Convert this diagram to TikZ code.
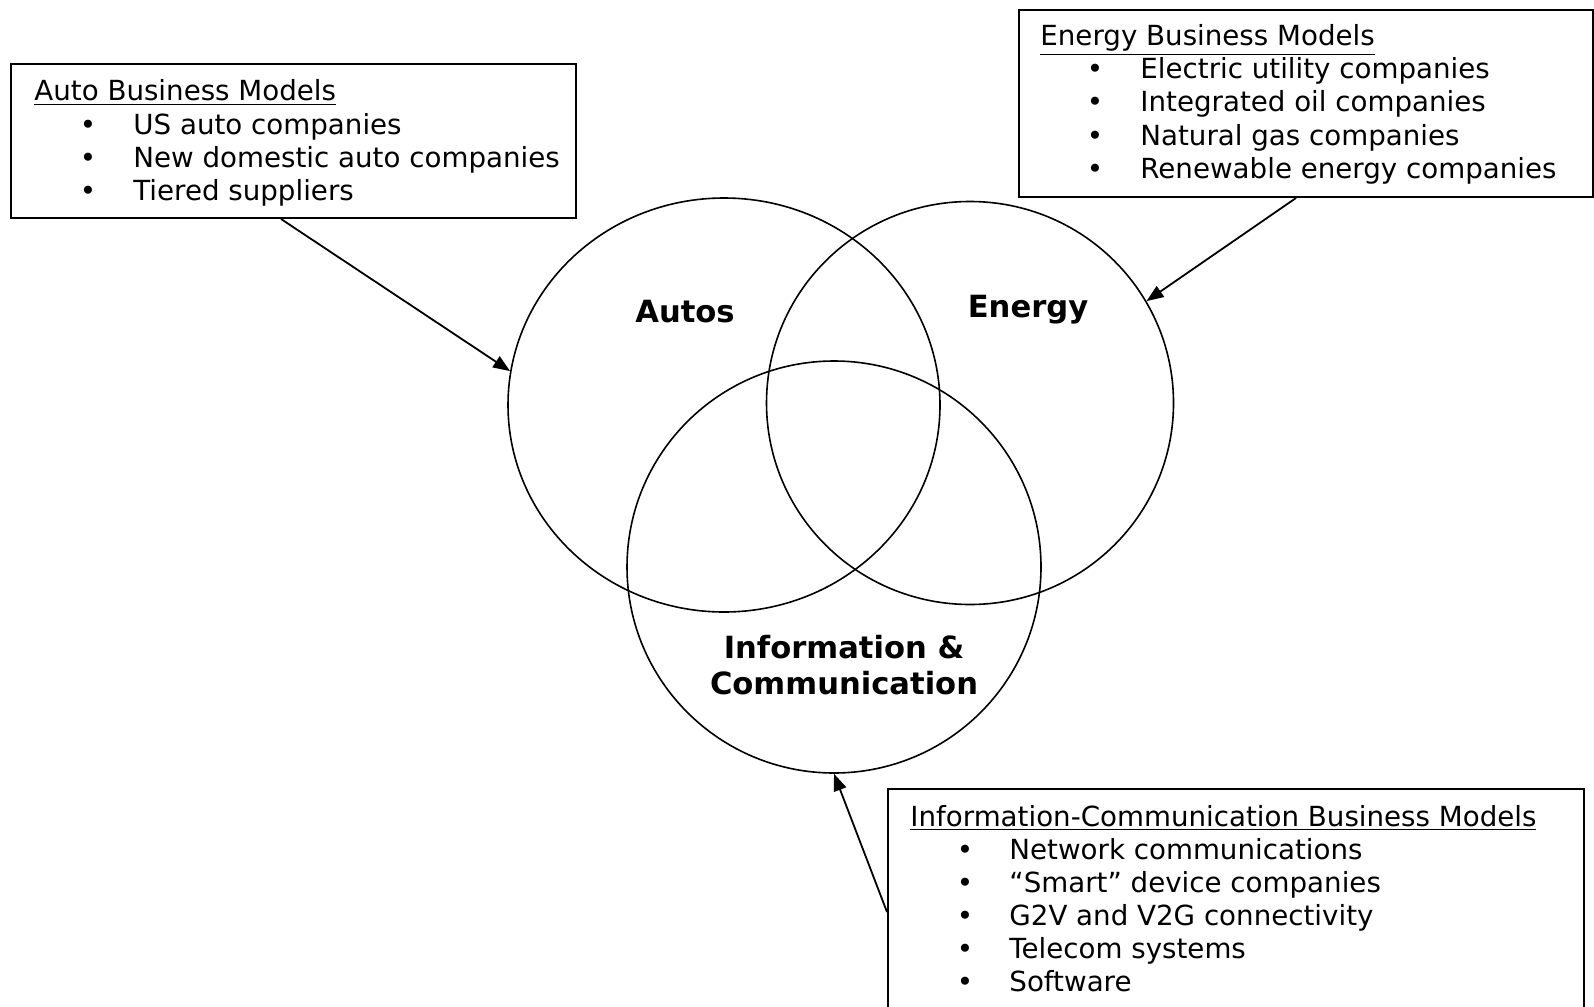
\documentclass[tikz,border=0pt]{standalone}
\usepackage{fontspec}
\setmainfont{DejaVu Sans}
\usetikzlibrary{shapes.geometric,arrows.meta}

\tikzset{
  modelbox/.style={draw,line width=1pt,anchor=north west,inner sep=0pt},
  ring/.style={draw,ellipse,line width=0.8pt,inner sep=0pt},
  item/.style={anchor=base west,inner sep=0pt},
  dot/.style={anchor=base,inner sep=0pt},
  sector/.style={font=\fontsize{15.3}{18}\selectfont\bfseries,align=center},
  conn/.style={-{Triangle[length=8.5pt,width=6.5pt]},line width=0.9pt}
}

\begin{document}
\begin{tikzpicture}[x=0.5pt,y=-0.5pt,
  every node/.append style={font=\fontsize{13.85}{16.5}\selectfont}]
\useasboundingbox (0,0) rectangle (1594,1006);

% the three sectors
\node [ring,minimum width=216pt,minimum height=207pt] (autos) at (724,405) {};
\node [ring,minimum width=203.5pt,minimum height=201.5pt] (energy) at (970,403) {};
\node [ring,minimum width=207pt,minimum height=206pt] (infocom) at (834,567) {};
\node [sector] (autoslbl) at (685,312) {Autos};
\node [sector] (energylbl) at (1028,310) {Energy};
\node [sector] (infocomlbl) at (844,665) {Information \&\\Communication};

% auto box
\node [modelbox,minimum width=282.5pt,minimum height=77pt] (autobox) at (10,63) {};
\node [item] (autotitle) at (34,101) {\underline{Auto Business Models}};
\foreach \txt [count=\i] in {US auto companies,New domestic auto companies,Tiered suppliers} {
  \node [dot] (autob\i) at (88,101+33*\i) {\textbullet};
  \node [item] (auto\i) at (133,101+33*\i) {\txt};
}

% energy box
\node [modelbox,minimum width=287pt,minimum height=93.5pt] (energybox) at (1018,9) {};
\node [item] (energytitle) at (1040,46) {\underline{Energy Business Models}};
\foreach \txt [count=\i] in {Electric utility companies,Integrated oil companies,Natural gas companies,Renewable energy companies} {
  \node [dot] (energyb\i) at (1095,46+33*\i) {\textbullet};
  \node [item] (energy\i) at (1140,46+33*\i) {\txt};
}

% information-communication box
\node [modelbox,minimum width=348pt,minimum height=112pt] (infobox) at (887,788) {};
\node [item] (infotitle) at (910,826) {\underline{Information-Communication Business Models}};
\foreach \txt [count=\i] in {Network communications,“Smart” device companies,G2V and V2G connectivity,Telecom systems,Software} {
  \node [dot] (infob\i) at (965,826+33*\i) {\textbullet};
  \node [item] (info\i) at (1009,826+33*\i) {\txt};
}

% arrows
\draw [conn] ([xshift=135.5pt]autobox.south west) -- (autos.171.6);
\draw [conn] ([xshift=139pt]energybox.south west) -- (energy.30.3);
\draw [conn] ([yshift=-62pt]infobox.north west) -- (infocom.south);
\end{tikzpicture}
\end{document}
